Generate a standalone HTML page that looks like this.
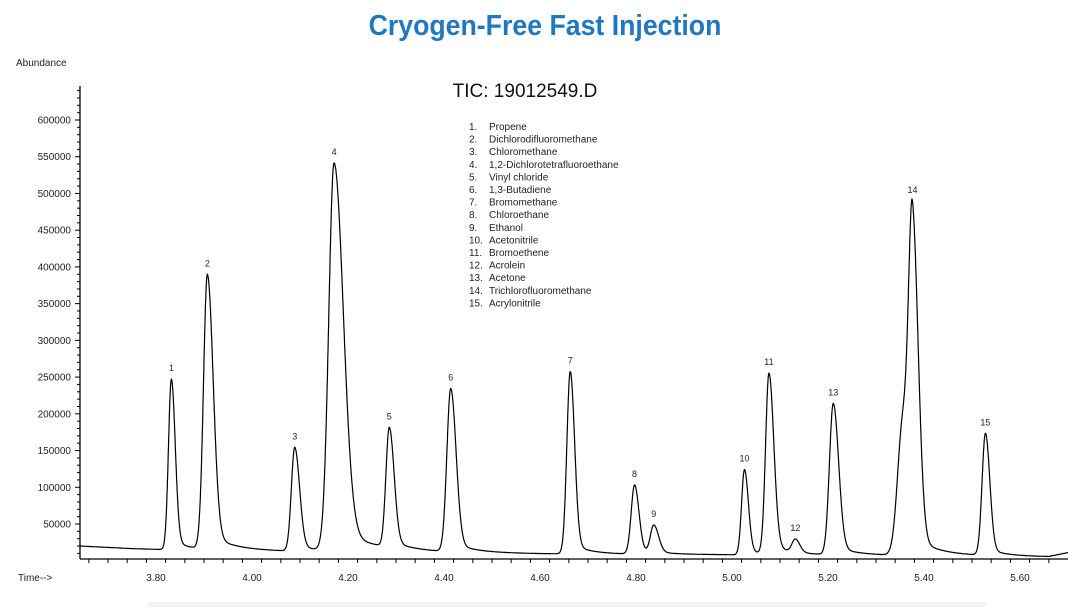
<!DOCTYPE html>
<html><head><meta charset="utf-8"><style>
body{margin:0;background:#fff;width:1084px;height:607px;overflow:hidden;font-family:"Liberation Sans",sans-serif}
</style></head><body>
<svg width="1084" height="607">
<text x="545" y="35" text-anchor="middle" font-size="29" font-weight="bold" fill="#1f78c0" font-family="'Liberation Sans Narrow','Liberation Sans',sans-serif" transform="translate(545,0) scale(0.92,1) translate(-545,0)">Cryogen-Free Fast Injection</text>
<text x="16" y="66" font-size="10" fill="#222">Abundance</text>
<text x="525" y="97" text-anchor="middle" font-size="19" fill="#111">TIC: 19012549.D</text>
<text x="18" y="581" font-size="10" fill="#222">Time--&gt;</text>
<rect x="148" y="602" width="838" height="5" fill="#f2f2f2"/>
<g id="axes"></g><g id="legend"></g><path id="trace" fill="none" stroke="#000" stroke-width="1.2"/><g id="labels"></g>
</svg>
<script>
const peakNums=[1,2,3,4,5,6,7,8,9,10,11,12,13,14,15];
const peakTimes=[3.832,3.907,4.089,4.171,4.286,4.414,4.663,4.797,4.837,5.026,5.077,5.132,5.211,5.376,5.528];
const peakHeights=[232000,374000,141000,528000,163000,222000,248000,94000,38000,116000,246000,18000,206000,448000,166000];
const peakWidthL=[0.006,0.008,0.007,0.011,0.007,0.008,0.007,0.007,0.007,0.006,0.007,0.007,0.008,0.008,0.007];
const peakWidthR=[0.008,0.012,0.010,0.019,0.010,0.011,0.009,0.009,0.010,0.008,0.010,0.009,0.011,0.012,0.009];
const shoulderTimes=[5.356];const shoulderHeights=[180000];
const baseTimes=[3.642,3.75,3.80,3.90,4.05,4.30,4.60,4.90,5.20,5.50,5.66,5.70];
const baseVals=[20000,16500,15500,14500,13000,11500,9500,8500,7500,6500,5500,11000];
const names=["Propene","Dichlorodifluoromethane","Chloromethane","1,2-Dichlorotetrafluoroethane","Vinyl chloride","1,3-Butadiene","Bromomethane","Chloroethane","Ethanol","Acetonitrile","Bromoethene","Acrolein","Acetone","Trichlorofluoromethane","Acrylonitrile"];
const yTicks=[50000,100000,150000,200000,250000,300000,350000,400000,450000,500000,550000,600000];
const xTicks=[3.8,4.0,4.2,4.4,4.6,4.8,5.0,5.2,5.4,5.6];
const X=t=>156+(t-3.8)*480, Y=v=>120+(600000-v)*404/550000;
const NS="http://www.w3.org/2000/svg";
function mk(p,tag,at){const e=document.createElementNS(NS,tag);for(const k in at)e.setAttribute(k,at[k]);p.appendChild(e);return e;}
const ax=document.getElementById('axes');
let a=mk(ax,'line',{x1:80,y1:86,x2:80,y2:559,stroke:'#000','stroke-width':1.3});

a=mk(ax,'line',{x1:80,y1:559,x2:1068,y2:559,stroke:'#000','stroke-width':1.3});

for(let v=10000;v<=650000;v+=10000){const y=Y(v);if(y<86)break;mk(ax,'line',{x1:v%50000?77:75,y1:y,x2:80,y2:y,stroke:'#000','stroke-width':1});}
yTicks.forEach(v=>{const t=mk(ax,'text',{x:71,y:Y(v)+3.5,'text-anchor':'end','font-size':10,fill:'#222'});t.textContent=v;
});
for(let t=3.66;t<5.70;t+=0.04){const x=X(t);mk(ax,'line',{x1:x,y1:559,x2:x,y2:Math.abs(((t-3.8)/0.2)%1)<0.01||Math.abs(((t-3.8)/0.2)%1)>0.99?564:563,stroke:'#000','stroke-width':1});}
xTicks.forEach(v=>{const t=mk(ax,'text',{x:X(v),y:581,'text-anchor':'middle','font-size':10,fill:'#222'});t.textContent=v.toFixed(2);
});
function base(t){for(let i=0;i<baseTimes.length-1;i++){if(t<=baseTimes[i+1]){const f=(t-baseTimes[i])/(baseTimes[i+1]-baseTimes[i]);return baseVals[i]+f*(baseVals[i+1]-baseVals[i]);}}return baseVals[baseVals.length-1];}
function sig(t){let s=base(t);peakTimes.forEach((p,i)=>{const d=t-p,w=d<0?peakWidthL[i]:peakWidthR[i];s+=peakHeights[i]*Math.exp(-d*d/(2*w*w));
if(d>0)s+=peakHeights[i]*0.06*Math.exp(-d/(w*4))*(1-Math.exp(-d*d/(2*w*w)));});
shoulderTimes.forEach((p,i)=>{const d=t-p;s+=shoulderHeights[i]*Math.exp(-d*d/(2*0.011*0.011));});return s;}
let d='';for(let t=3.642;t<=5.70;t+=0.0005){d+=(d?'L':'M')+X(t).toFixed(1)+','+Y(sig(t)).toFixed(1);}
document.getElementById('trace').setAttribute('d',d);
const lb=document.getElementById('labels');
peakNums.forEach((n,i)=>{const t=mk(lb,'text',{x:X(peakTimes[i]),y:Y(sig(peakTimes[i]))-8,'text-anchor':'middle','font-size':9,fill:'#222'});t.textContent=n;
});
const lg=document.getElementById('legend');
names.forEach((n,i)=>{const y=130+i*12.6;const t1=mk(lg,'text',{x:469,y:y,'font-size':10,fill:'#222'});t1.textContent=(i+1)+'.';
const t2=mk(lg,'text',{x:489,y:y,'font-size':10,fill:'#222'});t2.textContent=n;
});
</script>
</body></html>
